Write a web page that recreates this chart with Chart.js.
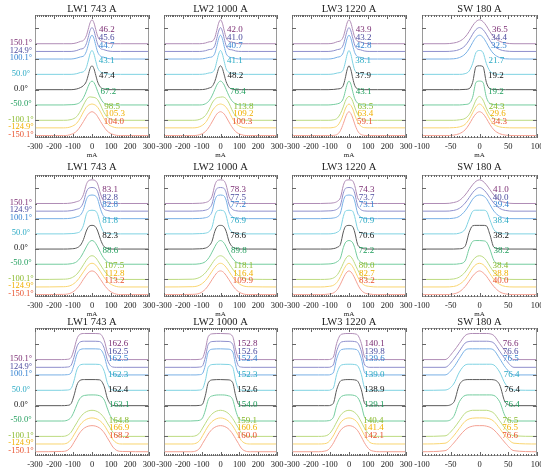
<!DOCTYPE html>
<html>
<head>
<meta charset="utf-8">
<script src="https://cdn.jsdelivr.net/npm/chart.js@4.4.1/dist/chart.umd.min.js"></script>
<style>
  body { margin: 0; background: #fff; }
  #wrap { position: relative; width: 541px; height: 470px; overflow: hidden; background: #fff; }
  #wrap canvas { position: absolute; }
</style>
</head>
<body>
<div id="wrap"></div>
<script>
// ------------------------------------------------------
// data
// ------------------------------------------------------
const angles = [150.1, 124.9, 100.1, 50.0, 0.0, -50.0, -100.1, -124.9, -150.1];
const angleLabels = ['150.1°', '124.9°', '100.1°', '50.0°', '0.0°', '-50.0°', '-100.1°', '-124.9°', '-150.1°'];
const titles = ['LW1 743 A', 'LW2 1000 A', 'LW3 1220 A', 'SW 180 A'];
const lwTicks = [-300, -200, -100, 0, 100, 200, 300];
const swTicks = [-100, -50, 0, 50, 100];

const gridNarrow = [-300, -150, -110, -80, -60, -45, -30, -20, -10, 0, 10, 20, 30, 45, 60, 80, 110, 150, 300];
const gridWide = [-300, -160, -130, -110, -95, -80, -65, -40, 0, 40, 65, 80, 95, 110, 130, 160, 300];
const gridSw = [-100, -60, -45, -35, -25, -18, -12, -6, 0, 6, 12, 18, 25, 35, 45, 60, 100];

// profile heights, % of peak, one row per angle (top to bottom)
const r1LW1 = [
  [0,0,0,4,10,14,33,60,88,100,88,59,31,13,9,3,0,0,0],
  [0,0,0,4,10,13,32,59,88,100,88,58,30,12,8,3,0,0,0],
  [0,0,0,4,9,12,31,58,87,100,87,57,29,12,8,3,0,0,0],
  [0,0,0,3,8,11,28,56,87,100,86,55,27,10,6,2,0,0,0],
  [0,0,0,3,9,17,34,60,89,100,88,60,32,10,3,0,0,0,0],
  [0,0,1,4,13,30,57,78,94,100,94,78,56,28,10,2,0,0,0],
  [0,0,3,16,40,64,86,95,98,97,96,93,86,64,38,14,2,0,0],
  [0,0,5,20,44,67,86,94,98,100,98,94,86,67,44,19,4,0,0],
  [0,0,5,19,40,59,79,90,97,100,97,90,79,59,40,19,5,0,0]
];
const r1LW2 = [
  [0,0,0,3,8,10,26,55,86,100,86,54,25,10,7,2,0,0,0],
  [0,0,0,3,8,10,25,54,85,100,85,53,24,9,7,2,0,0,0],
  [0,0,0,3,7,9,24,53,85,100,85,52,23,9,6,2,0,0,0],
  [0,0,0,2,6,8,23,53,85,100,85,53,23,8,5,2,0,0,0],
  [0,0,0,2,7,13,35,61,89,100,89,61,33,10,3,0,0,0,0],
  [0,0,0,5,18,38,65,83,95,100,95,83,65,38,18,5,0,0,0],
  [0,0,4,20,46,72,88,94,96,97,98,96,90,72,45,18,3,0,0],
  [0,0,5,22,47,70,86,94,98,100,98,94,86,68,44,20,4,0,0],
  [0,0,4,17,37,57,78,90,97,100,97,90,78,57,37,17,4,0,0]
];
const r1LW3 = [
  [0,0,0,3,9,12,29,57,87,100,87,56,28,11,8,2,0,0,0],
  [0,0,0,3,8,11,28,56,86,100,86,55,27,10,7,2,0,0,0],
  [0,0,0,3,8,11,27,55,86,100,86,55,27,10,7,2,0,0,0],
  [0,0,0,2,6,8,20,48,83,100,83,47,18,5,3,1,0,0,0],
  [0,0,0,1,3,5,18,47,83,100,83,47,18,3,1,0,0,0,0],
  [0,0,0,2,5,10,27,56,87,100,87,55,27,8,2,0,0,0,0],
  [0,0,0,2,10,28,56,79,94,100,95,79,55,26,9,1,0,0,0],
  [0,0,0,2,10,28,56,79,94,100,94,79,55,26,9,1,0,0,0],
  [0,0,0,1,6,21,50,73,92,100,92,73,49,20,6,1,0,0,0]
];
const r1SW = [
  [0,0,3,10,28,51,75,93,100,93,75,51,28,10,3,0,0],
  [0,0,2,8,24,47,72,92,100,92,72,47,24,8,2,0,0],
  [0,0,1,6,21,43,69,91,100,91,69,43,21,6,1,0,0],
  [0,0,0,0,3,14,45,92,100,92,45,14,3,0,0,0,0],
  [0,0,0,0,1,4,30,97,100,97,30,4,1,0,0,0,0],
  [0,0,0,0,2,6,32,95,100,95,32,6,2,0,0,0,0],
  [0,0,0,2,8,24,51,85,100,85,51,24,8,2,0,0,0],
  [0,0,1,4,15,36,63,89,100,89,63,36,15,4,1,0,0],
  [0,0,2,8,24,47,72,92,100,92,72,47,24,8,2,0,0]
];

const r2LW1 = [
  [0,0,2,8,16,38,80,95,99,100,99,95,82,40,12,3,0,0,0],
  [0,0,2,8,16,38,80,95,99,100,99,95,82,40,12,3,0,0,0],
  [0,0,2,8,16,38,80,95,99,100,99,95,82,40,12,3,0,0,0],
  [0,0,1,4,12,36,82,96,99,100,99,96,82,38,10,2,0,0,0],
  [0,0,1,5,17,40,76,92,99,100,99,92,76,40,14,3,0,0,0],
  [0,0,2,11,29,50,73,87,97,100,97,87,73,49,28,10,2,0,0],
  [0,1,6,22,43,62,81,91,98,100,98,91,80,61,42,21,5,0,0],
  [0,1,7,25,46,64,82,92,98,100,98,92,82,64,45,24,7,0,0],
  [0,1,7,25,46,65,82,92,98,100,98,92,82,64,46,25,7,0,0]
];
const r2LW2 = [
  [0,0,1,4,12,30,78,95,99,100,99,95,78,30,10,2,0,0,0],
  [0,0,1,4,12,30,78,95,99,100,99,95,78,30,10,2,0,0,0],
  [0,0,1,4,11,29,78,95,99,100,99,95,78,29,10,2,0,0,0],
  [0,0,1,3,10,28,77,95,99,100,99,95,77,28,9,2,0,0,0],
  [0,0,1,4,14,33,75,92,99,100,99,92,75,33,12,3,0,0,0],
  [0,0,2,11,29,51,74,88,97,100,97,88,74,50,29,11,2,0,0],
  [0,1,9,28,49,67,84,92,98,100,98,92,84,67,49,28,9,1,0],
  [0,1,8,27,48,66,83,92,98,100,98,92,83,66,48,27,8,1,0],
  [0,1,6,23,44,63,81,91,98,100,98,91,81,63,44,23,6,0,0]
];
const r2LW3 = [
  [0,0,1,3,10,25,76,95,99,100,99,95,76,25,8,1,0,0,0],
  [0,0,1,3,10,25,76,95,99,100,99,95,76,25,8,1,0,0,0],
  [0,0,1,3,9,24,75,95,99,100,99,95,75,24,8,1,0,0,0],
  [0,0,0,2,8,21,73,95,99,100,99,95,73,21,6,1,0,0,0],
  [0,0,0,2,8,20,72,94,99,100,99,94,72,20,6,1,0,0,0],
  [0,0,1,4,12,26,70,90,98,100,98,90,70,26,10,2,0,0,0],
  [0,0,1,7,21,42,68,84,96,100,96,84,68,42,21,6,1,0,0],
  [0,0,2,8,23,44,70,85,96,100,96,85,70,44,23,8,2,0,0],
  [0,0,2,8,23,44,70,85,96,100,96,85,70,44,23,8,2,0,0]
];
const r2SW = [
  [0,0,4,13,36,59,79,94,100,94,79,59,36,13,4,0,0],
  [0,0,3,12,34,57,78,93,100,93,78,57,34,12,3,0,0],
  [0,0,2,10,33,58,82,96,100,97,85,60,32,10,2,0,0],
  [0,0,0,3,20,62,95,100,100,100,96,60,18,3,0,0,0],
  [0,0,0,1,12,70,98,100,100,100,98,62,8,1,0,0,0],
  [0,0,0,2,14,66,96,100,100,99,94,64,16,2,0,0,0],
  [0,0,2,10,31,56,80,95,100,95,80,56,31,10,2,0,0],
  [0,0,2,11,32,57,80,95,100,95,80,57,32,11,2,0,0],
  [0,0,3,12,34,57,78,93,100,93,78,57,34,12,3,0,0]
];

const r3LW1 = [
  [0,0,1,8,38,78,96,100,100,99,72,30,8,1,0,0,0],
  [0,0,1,8,38,78,96,100,100,99,72,30,8,1,0,0,0],
  [0,0,1,8,38,78,96,100,100,99,72,30,8,1,0,0,0],
  [0,0,1,7,36,78,96,100,100,99,72,30,7,1,0,0,0],
  [0,0,1,8,38,78,96,100,100,99,72,30,8,1,0,0,0],
  [0,0,3,14,35,62,85,98,100,97,80,50,22,6,1,0,0],
  [0,0,4,16,34,52,70,90,100,90,70,52,34,16,4,0,0],
  [0,0,4,17,35,53,71,90,100,90,71,53,35,17,4,0,0],
  [0,1,5,18,36,54,72,91,100,91,72,54,36,18,5,1,0]
];
const r3LW2 = [
  [0,0,0,1,6,40,88,99,100,99,88,40,6,1,0,0,0],
  [0,0,0,1,6,40,88,99,100,99,88,40,6,1,0,0,0],
  [0,0,0,1,6,39,88,99,100,99,88,39,6,1,0,0,0],
  [0,0,0,1,6,39,88,99,100,99,88,39,6,1,0,0,0],
  [0,0,0,1,6,40,88,99,100,99,88,40,6,1,0,0,0],
  [0,0,1,3,12,42,82,97,100,97,82,42,12,3,1,0,0],
  [0,0,3,14,32,50,68,89,100,89,68,50,32,14,3,0,0],
  [0,0,3,14,32,51,69,89,100,89,69,51,32,14,3,0,0],
  [0,0,3,14,32,50,68,89,100,89,68,50,32,14,3,0,0]
];
const r3LW3 = [
  [0,0,0,0,2,14,62,97,100,97,62,14,2,0,0,0,0],
  [0,0,0,0,2,14,62,97,100,97,62,14,2,0,0,0,0],
  [0,0,0,0,2,13,62,97,100,97,62,13,2,0,0,0,0],
  [0,0,0,0,2,13,61,97,100,97,61,13,2,0,0,0,0],
  [0,0,0,0,2,13,61,97,100,97,61,13,2,0,0,0,0],
  [0,0,0,1,4,18,60,94,100,94,60,18,4,1,0,0,0],
  [0,0,1,6,17,34,55,85,100,85,55,34,17,6,1,0,0],
  [0,0,1,6,18,35,56,86,100,86,56,35,18,6,1,0,0],
  [0,0,2,7,19,36,57,86,100,86,57,36,19,7,2,0,0]
];
const r3SW = [
  [0,0,32,62,92,99,100,100,100,100,100,99,92,62,32,0,0],
  [0,0,31,62,93,99,100,100,100,100,100,99,93,62,31,0,0],
  [0,0,29,63,95,100,100,100,100,100,100,100,95,63,29,0,0],
  [0,1,24,70,97,100,100,100,100,100,100,100,97,70,24,1,0],
  [0,0,12,80,99,100,100,100,100,100,100,100,99,80,12,0,0],
  [0,0,17,74,98,100,100,100,100,100,100,100,98,74,17,0,0],
  [0,2,30,60,89,97,100,100,100,100,100,97,89,60,30,2,0],
  [0,3,31,60,87,96,99,100,100,100,99,96,87,60,31,3,0],
  [0,4,33,60,84,94,98,100,100,100,98,94,84,60,33,4,0]
];

// FWHM values printed next to each profile
const r1W = [
  ['46.2','45.6','44.7','43.1','47.4','67.2','98.5','105.3','104.0'],
  ['42.0','41.0','40.7','41.1','48.2','76.4','113.8','109.2','100.3'],
  ['43.9','43.2','42.8','38.1','37.9','43.1','63.5','63.4','59.1'],
  ['36.5','34.4','32.5','21.7','19.2','19.2','24.3','29.6','34.3']
];
const r2W = [
  ['83.1','82.8','82.8','81.8','82.3','88.6','107.5','112.8','113.2'],
  ['78.3','77.5','77.2','76.9','78.6','89.8','118.1','116.4','109.9'],
  ['74.3','73.7','73.1','70.9','70.6','72.2','80.0','82.7','83.2'],
  ['41.0','40.0','39.4','38.4','38.2','38.2','38.4','38.8','40.0']
];
const r3W = [
  ['162.6','162.5','162.5','162.3','162.4','163.1','164.8','166.9','168.2'],
  ['152.8','152.6','152.4','152.3','152.6','154.0','159.1','160.6','160.0'],
  ['140.1','139.8','139.6','139.0','138.9','139.1','140.4','141.4','142.1'],
  ['76.6','76.6','76.5','76.4','76.4','76.4','76.5','76.5','76.6']
];

// ------------------------------------------------------
// look & layout
// ------------------------------------------------------
const textColors = ['#7a2c72', '#4a4a9e', '#2f7fd0', '#27a9c3', '#111111', '#1f9d5b', '#8aba2c', '#f0b000', '#e8502c'];
const lineColors = ['#b08cb6', '#8f8fcc', '#78b0e6', '#7fd2e2', '#5a5a5a', '#74cc9e', '#bcdb80', '#f9d570', '#f4a092'];
const FONT = '"Liberation Serif", "DejaVu Serif", serif';

const COLS = [[35, 149], [164, 277], [292, 406], [422, 537]];
const ROWS = [[15, 138], [175, 297], [328, 456]];
const YRANGE = [[-158, 244], [-158, 244], [-164, 253]];
const AMP = [78, 78, 85];
const LABEL_UP = [45, 45, 52];
const TITLE_GAP = [6, 8, 6];

const rows = [
  { profiles: [r1LW1, r1LW2, r1LW3, r1SW], widths: r1W },
  { profiles: [r2LW1, r2LW2, r2LW3, r2SW], widths: r2W },
  { profiles: [r3LW1, r3LW2, r3LW3, r3SW], widths: r3W }
];
const gridsByRow = [
  [gridNarrow, gridNarrow, gridNarrow, gridSw],
  [gridNarrow, gridNarrow, gridNarrow, gridSw],
  [gridWide, gridWide, gridWide, gridSw]
];

// right-hand crossing of a profile at a given level (data units)
function crossRight(points, level) {
  let peak = 0;
  points.forEach((p, i) => { if (p.y > points[peak].y) peak = i; });
  for (let i = peak; i < points.length - 1; i++) {
    const a = points[i], b = points[i + 1];
    if (a.y >= level && b.y < level) {
      return a.x + (b.x - a.x) * (a.y - level) / (a.y - b.y);
    }
  }
  return points[peak].x;
}

const panelPlugin = {
  id: 'panel',
  afterDatasetsDraw(chart) {
    const o = chart.options.plugins.panel;
    const { ctx, chartArea: a, scales: { x, y } } = chart;
    ctx.save();

    // frame with inward ticks (IDL style)
    ctx.strokeStyle = '#9a9a9a';
    ctx.lineWidth = 1;
    ctx.strokeRect(a.left + 0.5, a.top + 0.5, a.right - a.left - 1, a.bottom - a.top - 1);

    ctx.strokeStyle = '#666';
    ctx.beginPath();
    const n = Math.round((x.max - x.min) / o.minor);
    for (let i = 0; i <= n; i++) {
      const v = x.min + i * o.minor;
      const px = Math.round(x.getPixelForValue(v)) + 0.5;
      const len = (Math.abs(v) % o.major === 0) ? 4 : 2;
      ctx.moveTo(px, a.bottom); ctx.lineTo(px, a.bottom - len);
      ctx.moveTo(px, a.top); ctx.lineTo(px, a.top + len);
    }
    for (let v = -100; v <= 200; v += 50) {
      const py = Math.round(y.getPixelForValue(v)) + 0.5;
      const len = v % 100 === 0 ? 4 : 2;
      ctx.moveTo(a.left, py); ctx.lineTo(a.left + len, py);
      ctx.moveTo(a.right, py); ctx.lineTo(a.right - len, py);
    }
    ctx.stroke();

    // tick labels, axis name, title
    ctx.fillStyle = '#1a1a1a';
    ctx.textAlign = 'center';
    ctx.textBaseline = 'middle';
    ctx.font = '8.5px ' + FONT;
    o.ticks.forEach(t => ctx.fillText(String(t), x.getPixelForValue(t), a.bottom + 9));
    ctx.font = '7px ' + FONT;
    ctx.fillText('mA', (a.left + a.right) / 2, a.bottom + 17);
    ctx.font = '10.5px ' + FONT;
    ctx.fillText(o.title, (a.left + a.right) / 2, a.top - o.titleGap);

    // angle labels on the left panel
    if (o.showAngles) {
      ctx.font = '8.5px ' + FONT;
      angleLabels.forEach((t, i) => {
        ctx.fillStyle = textColors[i];
        ctx.fillText(t, a.left - 14, y.getPixelForValue(angles[i]) - 1);
      });
    }

    // FWHM values next to each profile
    ctx.font = '9px ' + FONT;
    ctx.textAlign = 'left';
    chart.data.datasets.forEach((ds, i) => {
      const level = angles[i] + o.labelUp;
      const xc = crossRight(ds.data, level);
      ctx.fillStyle = textColors[i];
      ctx.fillText(o.widths[i], x.getPixelForValue(xc) + 3, y.getPixelForValue(level));
    });

    ctx.restore();
  }
};

const wrap = document.getElementById('wrap');

function makePanel(r, c) {
  const [bl, br] = COLS[c];
  const [bt, bb] = ROWS[r];
  const padL = c === 0 ? 35 : 14, padR = 14, padT = 16, padB = 24;
  const cv = document.createElement('canvas');
  cv.width = br - bl + padL + padR;
  cv.height = bb - bt + padT + padB;
  cv.style.left = (bl - padL) + 'px';
  cv.style.top = (bt - padT) + 'px';
  wrap.appendChild(cv);

  const isSw = c === 3;
  const grid = gridsByRow[r][c];
  const profiles = rows[r].profiles[c];

  const datasets = profiles.map((h, i) => ({
    data: grid.map((xv, k) => ({ x: xv, y: angles[i] + h[k] * AMP[r] / 100 })),
    borderColor: lineColors[i],
    borderWidth: 1,
    pointRadius: 0,
    fill: false,
    cubicInterpolationMode: 'monotone'
  }));

  new Chart(cv.getContext('2d'), {
    type: 'line',
    data: { datasets },
    plugins: [panelPlugin],
    options: {
      responsive: false,
      animation: false,
      devicePixelRatio: 1,
      events: [],
      layout: { padding: { left: padL, right: padR, top: padT, bottom: padB } },
      plugins: {
        legend: { display: false },
        tooltip: { enabled: false },
        panel: {
          title: titles[c],
          ticks: isSw ? swTicks : lwTicks,
          major: isSw ? 50 : 100,
          minor: isSw ? 5 : 10,
          widths: rows[r].widths[c],
          labelUp: LABEL_UP[r],
          titleGap: TITLE_GAP[r],
          showAngles: c === 0
        }
      },
      scales: {
        x: { type: 'linear', min: isSw ? -100 : -300, max: isSw ? 100 : 300, display: false },
        y: { type: 'linear', min: YRANGE[r][0], max: YRANGE[r][1], display: false }
      }
    }
  });
}

for (let r = 0; r < 3; r++) {
  for (let c = 0; c < 4; c++) makePanel(r, c);
}
</script>
</body>
</html>
